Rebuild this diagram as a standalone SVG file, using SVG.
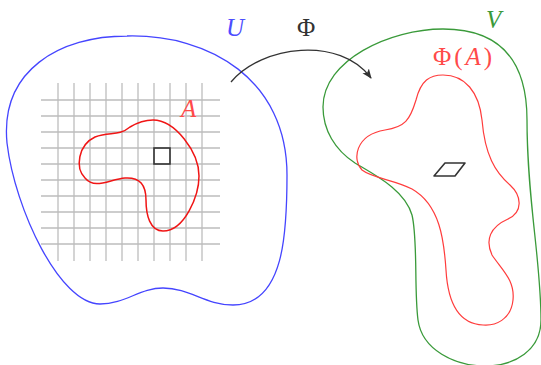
<svg xmlns="http://www.w3.org/2000/svg" width="541" height="365" viewBox="0 0 541 365">
<style>
.grid line{stroke:#bdbdbd;stroke-width:1.3}
.lbl{font-family:"Liberation Serif","Times New Roman",serif;font-size:25px}
.it{font-style:italic}
</style>
<defs>
<marker id="ah" viewBox="0 0 10 10" refX="9" refY="5" markerWidth="10" markerHeight="10" markerUnits="userSpaceOnUse" orient="auto">
<path d="M0,1 L10,5 L0,9 L2.5,5 Z" fill="#333"/>
</marker>
</defs>
<rect width="541" height="365" fill="#fff"/>
<g id="U">
<path d="M127,36 C210,34 287,80 287,175 C287,230 285,305 233,305 C205,305 190,288 163,288 C140,288 125,304 100,304 C60,304 15,210 7,143 C0,70 60,36 127,36 Z" fill="none" stroke="#4545ff" stroke-width="1.3"/>
<text class="lbl it" x="226" y="36" fill="#4d4dff">U</text>
</g>
<g id="grid" class="grid">
<line x1="58" y1="83" x2="58" y2="261"/><line x1="74" y1="83" x2="74" y2="261"/><line x1="90" y1="83" x2="90" y2="261"/><line x1="106" y1="83" x2="106" y2="261"/><line x1="122" y1="83" x2="122" y2="261"/><line x1="138" y1="83" x2="138" y2="261"/><line x1="154" y1="83" x2="154" y2="261"/><line x1="170" y1="83" x2="170" y2="261"/><line x1="186" y1="83" x2="186" y2="261"/><line x1="202" y1="83" x2="202" y2="261"/>
<line x1="41" y1="100" x2="220" y2="100"/><line x1="41" y1="116" x2="220" y2="116"/><line x1="41" y1="132" x2="220" y2="132"/><line x1="41" y1="148" x2="220" y2="148"/><line x1="41" y1="164" x2="220" y2="164"/><line x1="41" y1="180" x2="220" y2="180"/><line x1="41" y1="196" x2="220" y2="196"/><line x1="41" y1="212" x2="220" y2="212"/><line x1="41" y1="228" x2="220" y2="228"/><line x1="41" y1="244" x2="220" y2="244"/>
</g>
<g id="A">
<path d="M153,120 C175,120 199,152 199,176 C199,195 185,231 163,231 C150,231 146,215 146,200 C146,185 140,177 125,178 C110,179 95,190 85,178 C75,168 78,145 95,137 C110,131 118,137 130,127 C140,121 147,120 153,120 Z" fill="none" stroke="#f01515" stroke-width="1.5"/>
<text class="lbl it" x="181" y="117" fill="#ff4a4a">A</text>
</g>
<rect id="cell" x="154" y="148" width="16" height="16" fill="none" stroke="#333" stroke-width="1.6"/>
<g id="V">
<path d="M443,29 C500,29 527,60 527,120 C527,200 541,260 541,320 C541,350 515,366 485,366 C455,366 422,350 418,320 C414,290 418,240 412,215 C405,190 375,175 355,163 C335,150 323,130 323,107 C323,60 390,29 443,29 Z" fill="none" stroke="#3a9a3a" stroke-width="1.3"/>
<text class="lbl it" x="486" y="28" fill="#3a9a3a">V</text>
</g>
<g id="PhiA">
<path d="M443,75 C465,75 479,92 482,120 C485,155 495,172 510,185 C522,196 523,212 508,219 C490,227 485,240 492,255 C502,270 515,280 513,300 C511,320 495,326 483,325 C460,324 448,305 446,270 C444,240 440,205 412,189 C395,180 372,178 362,170 C352,160 355,135 385,130 C405,127 410,120 416,100 C421,80 430,75 443,75 Z" fill="none" stroke="#ff3c3c" stroke-width="1.2"/>
<text class="lbl" x="433" y="65" fill="#ff4a4a" textLength="59" lengthAdjust="spacing">Φ(<tspan font-style="italic">A</tspan>)</text>
</g>
<path id="para" d="M434,176 L445,163 L465,163 L455,176 Z" fill="none" stroke="#333" stroke-width="1.6" stroke-linejoin="round"/>
<g id="connectors">
<path d="M231,82 C262,45 340,36 371,78" fill="none" stroke="#333" stroke-width="1.3" marker-end="url(#ah)"/>
<text class="lbl" x="297" y="36" fill="#333">Φ</text>
</g>
</svg>
